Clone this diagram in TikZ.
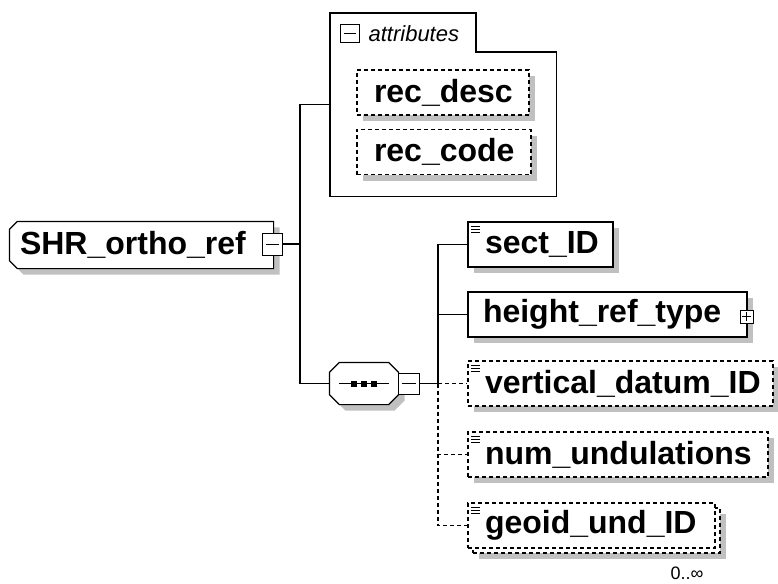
\documentclass[tikz,border=0pt]{standalone}
\usepackage{fontspec}
\setmainfont{Liberation Sans}
\usetikzlibrary{shadows,backgrounds}
\definecolor{ink}{HTML}{000000}
\definecolor{shadowgrey}{HTML}{C0C0C0}
\newcommand{\elfont}{\fontsize{32}{38}\selectfont\bfseries}
\newcommand{\tabfont}{\fontsize{22}{26}\selectfont\itshape}
\newcommand{\occfont}{\fontsize{18}{22}\selectfont}
\begin{document}
\begin{tikzpicture}[x=1pt,y=-1pt,line width=1.2pt,draw=ink,
  box/.style={draw=ink,fill=white,inner xsep=17pt,inner ysep=0,minimum height=45,align=left,font=\elfont},
  castshadow/.style={drop shadow={shadow xshift=6pt,shadow yshift=-6pt,fill=shadowgrey,opacity=1}},
  elem/.style={box,castshadow},
  optbox/.style={box,dash pattern=on 4pt off 3pt},
  optelem/.style={optbox,castshadow},
  outline/.style={draw=ink,line width=1.2pt,fill=white,castshadow},
  pmbox/.style={draw=ink,fill=white,inner sep=0,line width=1pt}]
\useasboundingbox (0,0) rectangle (778,583);
% root element
\node[inner xsep=10pt,inner ysep=0,text width=243,minimum height=46,align=left,font=\elfont] (root) at (141.5,245) {SHR\_ortho\_ref};
\begin{scope}[on background layer]
\draw[outline] (root.north east) -- ([xshift=8pt]root.north west) -- ([yshift=-8pt]root.north west) -- ([yshift=8pt]root.south west) -- ([xshift=8pt]root.south west) -- (root.south east) -- cycle;
\end{scope}
\node[pmbox,minimum width=20,minimum height=22] (rootpm) at (272,244) {};
\draw[line width=1pt] ([xshift=4pt]rootpm.west) -- ([xshift=-4pt]rootpm.east);
% attributes
\node[minimum width=225,minimum height=182,inner sep=0,anchor=north west] (attr) at (330,13) {};
\draw (attr.north west) -- ([xshift=146pt]attr.north west) |- ([yshift=-39pt]attr.north east) -- (attr.south east) -- (attr.south west) -- cycle;
\node[pmbox,minimum width=19,minimum height=18] (attrpm) at (349.5,34) {};
\draw[line width=1pt] ([xshift=4pt]attrpm.west) -- ([xshift=-4pt]attrpm.east);
\node[anchor=west,inner sep=0,font=\tabfont] (attrlbl) at (368,34) {attributes};
\node[optelem,text width=138,inner xsep=17pt] (recdesc) at (443,92.5) {rec\_desc};
\node[optelem,text width=140,inner xsep=17pt] (reccode) at (444,152) {rec\_code};
% sequence
\node[inner sep=0,minimum width=68,minimum height=41] (seq) at (364,383.5) {};
\begin{scope}[on background layer]
\draw[outline] ([xshift=10pt]seq.north west) -- ([xshift=-10pt]seq.north east) -- ([yshift=-10pt]seq.north east) -- ([yshift=10pt]seq.south east) -- ([xshift=-10pt]seq.south east) -- ([xshift=10pt]seq.south west) -- ([yshift=10pt]seq.south west) -- ([yshift=-10pt]seq.north west) -- cycle;
\end{scope}
\draw ([xshift=-25pt]seq.center) -- ([xshift=25pt]seq.center);
\foreach \dx in {-10,0,10}
  \fill[ink] ([xshift=\dx pt]seq.center) ++(-3,-3) rectangle ++(6,6);
\node[pmbox,minimum width=21,minimum height=21] (seqpm) at (408.5,383.5) {};
\draw[line width=1pt] ([xshift=4pt]seqpm.west) -- ([xshift=-4pt]seqpm.east);
% children
\node[elem,text width=111] (sect) at (540.5,244.5) {sect\_ID};
\node[elem,inner xsep=15pt,text width=249] (hrt) at (607.5,314.5) {height\_ref\_type};
\node[pmbox,minimum width=13,minimum height=13] (hrtpm) at (746.5,316.5) {};
\draw[line width=0.8pt] ([xshift=2.5pt]hrtpm.west) -- ([xshift=-2.5pt]hrtpm.east);
\draw[line width=0.8pt] ([yshift=-2.5pt]hrtpm.north) -- ([yshift=2.5pt]hrtpm.south);
\node[optelem,text width=271] (vdatum) at (620.5,383.5) {vertical\_datum\_ID};
\node[optelem,text width=266] (numund) at (618,454.5) {num\_undulations};
\node[optelem,text width=213] (geoidbk) at (596.5,530.5) {\phantom{geoid\_und\_ID}};
\node[optbox,text width=213] (geoid) at (591.5,525.5) {geoid\_und\_ID};
\node[inner sep=0,font=\occfont] (occurs) at (687,573) {0..∞};
\foreach \el in {sect,vdatum,numund,geoid}
  \foreach \dy in {5,8,11}
    \draw[line width=0.7pt] ([xshift=4pt,yshift=-\dy pt]\el.north west) -- ++(9,0);
% connectors
\coordinate (fork) at (300,244);
\coordinate (bus) at (438,383.5);
\draw (rootpm.east) -- (fork);
\draw (attr.west) -| (fork) |- (seq.west);
\draw (seqpm.east) -- (bus);
\draw (bus) |- (sect.west);
\draw (bus) |- (hrt.west);
\draw[dash pattern=on 4pt off 3pt] (bus) |- (vdatum.west);
\draw[dash pattern=on 4pt off 3pt] (bus) |- (numund.west);
\draw[dash pattern=on 4pt off 3pt] (bus) |- (geoid.west);
\end{tikzpicture}
\end{document}
